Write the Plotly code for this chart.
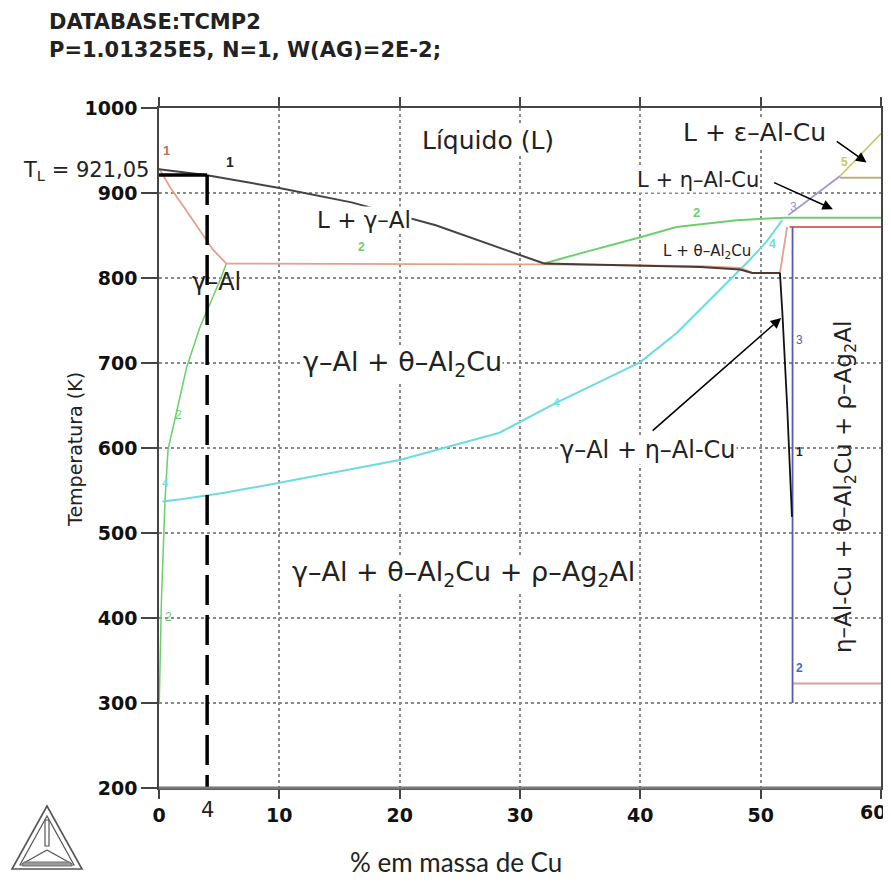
import plotly.graph_objects as go

# ---------------- data ----------------
liq_al_x = [0, 4, 10, 16, 23, 32]
liq_al_T = [928, 921, 906, 889, 862, 817]

sol_x = [0, 1, 2, 2.8, 4.5, 5.6, 32, 45, 48.3, 49.3, 51.6, 52.2]
sol_T = [929, 905, 885, 868, 833, 817, 816, 814, 812, 806, 806, 860]

liq_th_x = [32, 40, 45, 48.3, 49.3, 51.6]
liq_th_T = [817, 815, 813, 810, 806, 806]

eta_bound_x = [51.6, 51.8, 52.2, 52.6]
eta_bound_T = [806, 760, 650, 519]

solvus_l_x = [0.02, 0.2, 0.5, 0.75, 1.5, 2.3, 3.4, 4.4, 5.0, 5.6]
solvus_l_T = [300, 420, 539, 598, 645, 695, 742, 774, 795, 817]

liq_eta_x = [32, 35, 40, 43, 48, 52, 60]
liq_eta_T = [817, 829, 848, 860, 868, 871, 871]

cyan_x = [0.3, 2, 5.3, 10, 20, 28.3, 33, 40, 43, 45.3, 47, 49, 50.5, 51.8]
cyan_T = [537, 540, 547, 559, 586, 618, 653, 701, 735, 768, 792, 820, 843, 868]

blue_x = [52.65, 52.65]
blue_T = [860, 300]

red_top_x = [52.4, 60]
red_top_T = [860, 860]

red_bot_x = [52.65, 60]
red_bot_T = [323, 323]

purple_x = [52.3, 56.6]
purple_T = [874, 920]

yellow_x = [56.6, 60]
yellow_T = [920, 970]

yellow_h_x = [56.6, 60]
yellow_h_T = [918, 918]

x_ticks = [0, 10, 20, 30, 40, 50, 60]
x_tick_text = ["0", "10", "20", "30", "40", "50", ""]   # "60" placed as annotation (edge)
y_ticks = [200, 300, 400, 500, 600, 700, 800, 900, 1000]

TL = 921.05
x_alloy = 4

# ---------------- figure ----------------
# page body has an 8 px default margin; plot area is at screen x 159..881, y 108..788
OFF = 8
SL, ST, SR, SB = 159, 108, 881, 788
W, H = 891 - OFF, 888 - 2 * OFF
ML, MT = SL - OFF, ST - OFF
MR, MB = W - (SR - OFF), H - (SB - OFF)
PW, PH = SR - SL, SB - ST


def px(x):
    return (x - SL) / PW


def py(y):
    return (SB - y) / PH


fig = go.Figure()


def line(x, y, color, width=1.5, dash=None):
    fig.add_trace(go.Scatter(x=x, y=y, mode="lines",
                             line=dict(color=color, width=width, dash=dash),
                             hoverinfo="skip", showlegend=False))


SALMON = "#E4A08C"
GREEN = "#6CCF6C"
CYAN = "#6CDCE0"
BLUE = "#5A5AAE"
RED = "#D26F6C"
TAN = "#D4A29A"
PURPLE = "#A494D4"
YELLOW = "#C8C86A"

line(solvus_l_x, solvus_l_T, GREEN)
line(liq_eta_x, liq_eta_T, GREEN, 2)
line(cyan_x, cyan_T, CYAN, 2)
line(sol_x, sol_T, SALMON, 1.8)
line(red_top_x, red_top_T, RED, 2.2)
line(red_bot_x, red_bot_T, TAN, 2)
line(blue_x, blue_T, BLUE, 1.8)
line(purple_x, purple_T, PURPLE, 1.8)
line(yellow_x, yellow_T, YELLOW, 1.8)
line(yellow_h_x, yellow_h_T, "#B8B080", 2)
line(liq_al_x, liq_al_T, "#444444", 2)
line(liq_th_x, liq_th_T, "#4A3A34", 2)
line(eta_bound_x, eta_bound_T, "#111111", 1.8)

# alloy composition and liquidus temperature markers
line([x_alloy, x_alloy], [TL, 200], "black", 3.5, "30px,10px")
line([0, x_alloy], [TL, TL], "black", 3.5)

TXT = "DejaVu Sans"
NUM = "Liberation Sans"
ann = []


def label(x, y, text, size=20, color="#222", bg=None, angle=0, xanchor="center", family=TXT):
    d = dict(x=x, y=y, xref="x", yref="y", text=text, showarrow=False,
             font=dict(family=family, size=size, color=color), textangle=angle,
             xanchor=xanchor, yanchor="middle")
    if bg:
        d["bgcolor"] = bg
        d["borderpad"] = 0
    ann.append(d)


def arrow(tip_x, tip_y, tail_x, tail_y):
    ann.append(dict(x=tip_x, y=tip_y, ax=tail_x, ay=tail_y, xref="x", yref="y",
                    axref="x", ayref="y", text="", showarrow=True, arrowhead=2,
                    arrowsize=1.3, arrowwidth=1.6, arrowcolor="black"))


label(27.3, 962, "Líquido (L)", 25, bg="white")
label(17.0, 868, "L + γ–Al", 23, bg="white")
label(4.8, 795, "γ–Al", 24)
label(20.2, 700, "γ–Al + θ–Al<sub>2</sub>Cu", 27, bg="white")
label(25.3, 452, "γ–Al + θ–Al<sub>2</sub>Cu + ρ–Ag<sub>2</sub>Al", 27, bg="white")
label(40.6, 598, "γ–Al + η–Al-Cu", 24, bg="white")
label(45.5, 831, "L + θ–Al<sub>2</sub>Cu", 15)
label(44.8, 915, "L + η–Al-Cu", 21, bg="white")
label(49.5, 971, "L + ε–Al-Cu", 25, bg="white")
label(57.0, 554, "η–Al-Cu + θ–Al<sub>2</sub>Cu + ρ–Ag<sub>2</sub>Al", 23, angle=-90)

arrow(51.7, 753, 40.9, 619)
arrow(56.0, 881, 51.0, 913)
arrow(58.8, 936, 56.2, 962)

# curve number labels
label(5.9, 936, "<b>1</b>", 14, "#222", family=NUM)
label(0.6, 950, "<b>1</b>", 13, "#C0705A", family=NUM)
label(16.8, 836, "<b>2</b>", 12, GREEN, family=NUM)
label(1.6, 639, "2", 12, GREEN, family=NUM)
label(0.75, 401, "2", 12, GREEN, family=NUM)
label(44.7, 877, "<b>2</b>", 13, GREEN, family=NUM)
label(0.5, 559, "4", 12, CYAN, family=NUM)
label(33.0, 653, "4", 12, CYAN, family=NUM)
label(51.0, 840, "<b>4</b>", 12, CYAN, family=NUM)
label(52.7, 884, "3", 12, PURPLE, family=NUM)
label(57.0, 937, "<b>5</b>", 12, YELLOW, family=NUM)
label(53.2, 727, "3", 12, BLUE, family=NUM)
label(53.2, 595, "<b>1</b>", 12, "#222", family=NUM)
label(53.2, 341, "<b>2</b>", 12, "#3A6AD0", family=NUM)

# labels just outside the right axis
ann.append(dict(x=px(883), y=py(164), xref="paper", yref="paper", xanchor="left", yanchor="middle",
                text="3", showarrow=False, font=dict(family=NUM, size=15, color=BLUE)))
ann.append(dict(x=px(883), y=py(206), xref="paper", yref="paper", xanchor="left", yanchor="middle",
                text="2", showarrow=False, font=dict(family=NUM, size=15, color=GREEN)))

# last x tick label, nudged inside the page as in the reference
ann.append(dict(x=px(873), y=py(812), xref="paper", yref="paper", xanchor="center", yanchor="middle",
                text="<b>60</b>", showarrow=False, font=dict(family=TXT, size=19, color="#111")))

# header and axis titles
ann.append(dict(x=px(47), y=py(22), xref="paper", yref="paper", xanchor="left", yanchor="middle",
                text="<b>DATABASE:TCMP2</b>", showarrow=False,
                font=dict(family=TXT, size=21, color="#222")))
ann.append(dict(x=px(47), y=py(50), xref="paper", yref="paper", xanchor="left", yanchor="middle",
                text="<b>P=1.01325E5, N=1, W(AG)=2E-2;</b>", showarrow=False,
                font=dict(family=TXT, size=21, color="#222")))
ann.append(dict(x=px(151), y=py(171), xref="paper", yref="paper", xanchor="right", yanchor="middle",
                text="T<sub>L</sub> = 921,05", showarrow=False,
                font=dict(family=TXT, size=21, color="#222")))
ann.append(dict(x=x_alloy, y=py(810), xref="x", yref="paper", xanchor="center", yanchor="middle",
                text="4", showarrow=False, font=dict(family=TXT, size=21, color="#222")))
ann.append(dict(x=px(456), y=py(862), xref="paper", yref="paper", xanchor="center", yanchor="middle",
                text="% em massa de Cu", showarrow=False,
                font=dict(family="Lato", size=26, color="#222")))
ann.append(dict(x=px(75), y=py(450), xref="paper", yref="paper", xanchor="center", yanchor="middle",
                text="Temperatura (K)", showarrow=False, textangle=-90,
                font=dict(family=TXT, size=19, color="#222")))

# Thermo-Calc style logo (decorative)
shapes = []


def pth(points, width=1.5, color="#555", close=True, fill=None):
    s = "M " + " L ".join(f"{px(a):.5f},{py(b):.5f}" for a, b in points)
    if close:
        s += " Z"
    d = dict(type="path", path=s, xref="paper", yref="paper",
             line=dict(color=color, width=width), layer="above")
    if fill:
        d["fillcolor"] = fill
    shapes.append(d)


pth([(47, 806), (12, 869), (82, 869)], 1.6)
pth([(47, 816), (20, 865), (74, 865)], 1.2)
pth([(45, 820), (45, 846), (49, 846), (49, 820)], 1.2)
pth([(47, 850), (22, 864)], 1.3, close=False)
pth([(47, 850), (72, 864)], 1.3, close=False)
pth([(24, 862), (70, 862), (72, 866), (22, 866)], 1, "#777", fill="#999")

# thicker gray bottom axis line
shapes.append(dict(type="line", xref="paper", yref="paper", x0=0, x1=1, y0=0, y1=0,
                   line=dict(color="#777", width=3), layer="above"))

axis_common = dict(showline=True, linecolor="#444", linewidth=1.5, mirror="ticks",
                   ticks="outside", tickcolor="#444", tickwidth=1.5, automargin=False,
                   ticklabeloverflow="allow",
                   showgrid=True, gridcolor="#8a8a8a", gridwidth=1.5, griddash="dot",
                   zeroline=False,
                   tickfont=dict(family=TXT, size=19, color="#111", weight="bold"))

fig.update_layout(
    width=W, height=H, autosize=False,
    margin=dict(l=ML, r=MR, t=MT, b=MB, autoexpand=False),
    paper_bgcolor="white", plot_bgcolor="white",
    xaxis=dict(range=[0, 60], tickvals=x_ticks, ticktext=x_tick_text, ticklen=9, **axis_common),
    yaxis=dict(range=[200, 1000], tickvals=y_ticks, ticklen=16, **axis_common),
    annotations=ann, shapes=shapes, showlegend=False,
)

fig.write_html("out.html")
